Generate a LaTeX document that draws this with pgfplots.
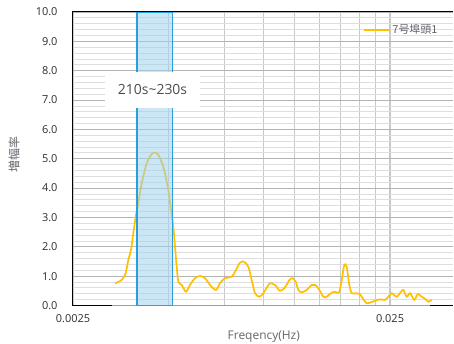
\documentclass[border=0pt]{standalone}
\usepackage{pgfplots}
\pgfplotsset{compat=1.18}
\usepackage{fontspec}
\setmainfont{Open Sans}
\newfontfamily\jp{Noto Sans CJK JP}
\definecolor{gold}{RGB}{255,192,0}
\definecolor{bandfill}{RGB}{160,210,235}
\definecolor{bandedge}{RGB}{40,160,220}
\definecolor{majgrid}{RGB}{180,180,180}
\definecolor{mingrid}{RGB}{222,222,222}
\definecolor{vgrid}{RGB}{200,200,200}
\definecolor{ticktext}{RGB}{45,45,45}
\definecolor{titletext}{RGB}{100,100,110}
\begin{document}
\begin{tikzpicture}
\path[use as bounding box] (-73bp,-38.5bp) rectangle (381bp,305.5bp);
\begin{axis}[
  at={(0,0)}, anchor=south west,
  scale only axis, width=380bp, height=293.5bp,
  xmode=log, xmin=0.0025, xmax=0.0395,
  ymin=0, ymax=10,
  clip=false,
  axis line style={draw=none},
  xtick={0.0025,0.025}, xticklabels={0.0025,0.025},
  minor xtick={0.005,0.0075,0.01,0.0125,0.015,0.0175,0.02,0.0225},
  ytick={0,1,2,3,4,5,6,7,8,9,10},
  minor y tick num=4,
  grid=both,
  x grid style={vgrid, line width=1.1bp},
  major y grid style={majgrid, line width=0.8bp},
  minor y grid style={mingrid, line width=0.8bp},
  major tick length=0, minor tick length=0,
  /pgf/number format/assume math mode=true,
  tick label style={font=\fontsize{11}{13}\selectfont, text=ticktext},
  y tick label style={/pgf/number format/fixed, /pgf/number format/fixed zerofill, /pgf/number format/precision=1, xshift=-12bp},
  x tick label style={yshift=-6bp},
  legend style={at={(axis description cs:0.965,0.939)}, anchor=east, draw=none, fill=none,
    font=\jp\fontsize{11}{13}\selectfont, text=titletext, inner sep=0pt},
  legend image code/.code={\draw[#1] (0bp,0bp) -- (26bp,0bp);},
]
\draw[black, line width=1bp] (rel axis cs:0,0) -- (rel axis cs:1,0);
\addplot[forget plot, gray!75, line width=1.2bp] coordinates {(0.003318,0) (0.03343,0)};
\addplot[gold, line width=1.7bp, smooth, tension=0.5] coordinates {
(0.003393,0.756) (0.00356,0.869) (0.003665,1.097) (0.003735,1.55) (0.00381,1.89)
(0.003875,2.46) (0.003943,3.03) (0.0040,3.37) (0.004118,4.16) (0.00427,4.84)
(0.004427,5.16) (0.004535,5.21) (0.004645,5.13) (0.004818,4.73) (0.004973,4.05)
(0.005095,3.25) (0.00518,2.69) (0.005245,2.0) (0.00531,1.32) (0.005373,0.81)
(0.005508,0.70) (0.00568,0.47) (0.005848,0.70) (0.006065,0.93) (0.00629,1.005)
(0.006523,0.93) (0.006763,0.70) (0.007064,0.53) (0.007272,0.76) (0.00754,0.93)
(0.007917,0.98) (0.00811,1.15) (0.00841,1.46) (0.008657,1.49) (0.008932,1.32)
(0.009155,0.87) (0.009377,0.42) (0.009675,0.30) (0.00996,0.42) (0.01033,0.70)
(0.010457,0.76) (0.010843,0.70) (0.011245,0.50) (0.011663,0.62) (0.012005,0.85)
(0.012295,0.93) (0.0126,0.81) (0.012843,0.53) (0.013165,0.45) (0.013653,0.53)
(0.014155,0.70) (0.0145,0.70) (0.01485,0.59) (0.0154,0.30) (0.015785,0.30)
(0.01637,0.44) (0.016768,0.47) (0.017263,0.44) (0.017603,0.87) (0.017938,1.38)
(0.018255,1.32) (0.018563,0.76) (0.01893,0.42) (0.01963,0.42) (0.020105,0.38)
(0.020593,0.21) (0.021105,0.075) (0.021775,0.11) (0.022418,0.16) (0.023253,0.21)
(0.024108,0.19) (0.024693,0.30) (0.02531,0.42) (0.026245,0.30) (0.027075,0.47)
(0.027538,0.53) (0.028223,0.30) (0.028908,0.42) (0.029828,0.19) (0.030573,0.39)
(0.031473,0.30) (0.0324,0.21) (0.033018,0.13) (0.03384,0.19)
};
\addlegendentry{7号埠頭1}
\addplot[forget plot, draw=bandedge, line width=1.3bp, fill=bandfill, fill opacity=0.55]
  coordinates {(0.00398,0) (0.00398,10) (0.00515,10) (0.00515,0)} -- cycle;
\fill[white] (axis cs:0.003152,6.73) rectangle (axis cs:0.00629,7.97);
\node[font=\fontsize{14}{16}\selectfont, text=ticktext!85!white] at (axis cs:0.004455,7.35) {210s\textasciitilde230s};
\draw[black, line width=1bp] (rel axis cs:0,0) -- (rel axis cs:0,1) -- (rel axis cs:1,1);
\node[rotate=90, font=\jp\fontsize{12}{14}\selectfont, text=titletext] at (axis description cs:-0.1553,0.515) {増幅率};
\node[font=\fontsize{12}{14}\selectfont, text=titletext] at (axis description cs:0.502,-0.1055) {Freqency(Hz)};
\end{axis}
\end{tikzpicture}
\end{document}
